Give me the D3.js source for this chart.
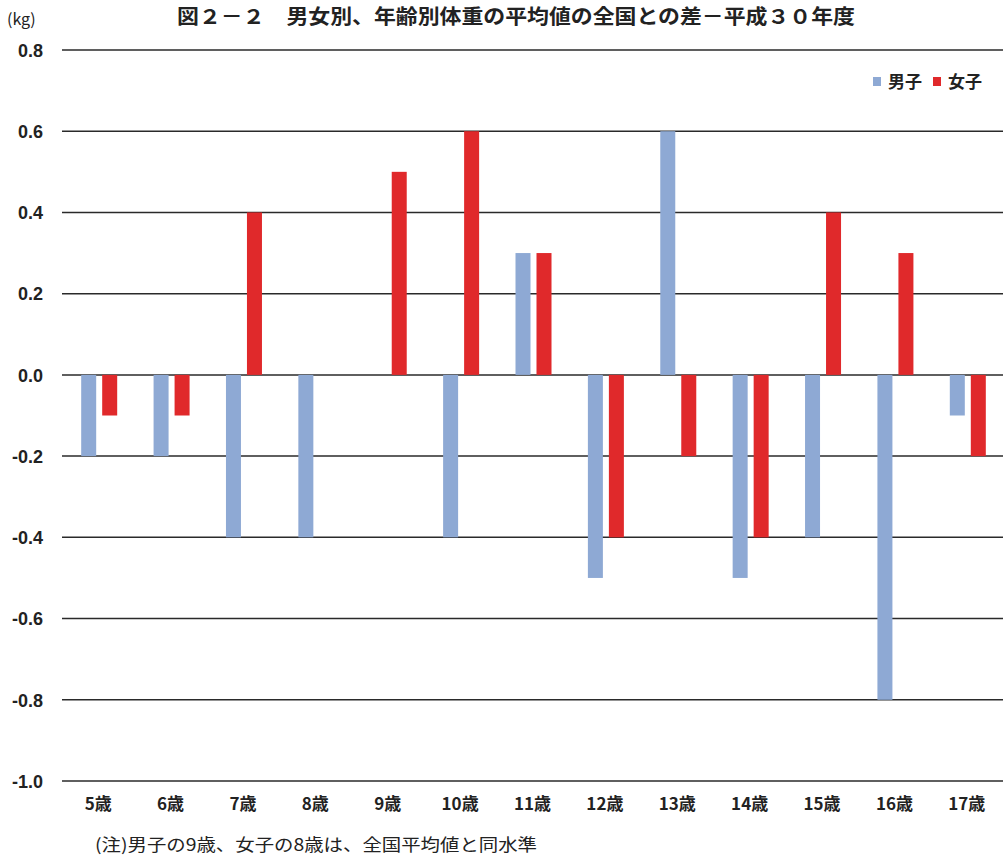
<!DOCTYPE html>
<html><head><meta charset="utf-8">
<script src="https://cdn.jsdelivr.net/npm/d3@7"></script>
<style>
html,body{margin:0;padding:0;background:#fff;}
svg{display:block;}
</style>
</head><body>
<script>
const categories = ["5歳","6歳","7歳","8歳","9歳","10歳","11歳","12歳","13歳","14歳","15歳","16歳","17歳"];
const seriesNames = ["男子","女子"];
const boys  = [-0.2,-0.2,-0.4,-0.4,null,-0.4,0.3,-0.5,0.6,-0.5,-0.4,-0.8,-0.1];
const girls = [-0.1,-0.1,0.4,null,0.5,0.6,0.3,-0.4,-0.2,-0.4,0.4,0.3,-0.2];
const yTicks = [0.8,0.6,0.4,0.2,0.0,-0.2,-0.4,-0.6,-0.8,-1.0];
const colors = ["#8ea9d4","#e0292b"];
const title = "図２－２　男女別、年齢別体重の平均値の全国との差－平成３０年度";
const note = "(注)男子の9歳、女子の8歳は、全国平均値と同水準";

const W = 1003, H = 861;
const svg = d3.select("body").append("svg").attr("width", W).attr("height", H);
const jp = "'Noto Sans CJK JP','Noto Sans',sans-serif";
const num = "'Liberation Sans',Arial,sans-serif";
const fmt = d => d.toFixed(1);

const x0 = d3.scaleBand().domain(categories).range([62, 1003]).padding(0);
const x1 = d3.scaleBand().domain(seriesNames).range([-17, 19]).paddingInner(6/21).paddingOuter(0);
const y = d3.scaleLinear().domain([-1.0, 0.8]).range([781, 50]);

// gridlines
svg.append("g").selectAll("line").data(yTicks).join("line")
  .attr("x1", 62).attr("x2", 1003)
  .attr("y1", d => y(d)).attr("y2", d => y(d))
  .attr("stroke", "#2a2a2a").attr("stroke-width", 1.5);

const yAxis = d3.axisLeft(y).tickValues(yTicks).tickSize(0).tickFormat(fmt);
const ag = svg.append("g").attr("transform", "translate(43,0)").call(yAxis);
ag.select(".domain").remove();
ag.selectAll("text").attr("x", 0).attr("dy", "0.35em")
  .attr("font-family", num).attr("font-weight", "bold").attr("font-size", 18).attr("fill", "#222");

// bars
const data = [];
categories.forEach((c, i) => {
  [boys, girls].forEach((arr, s) => {
    if (arr[i] !== null) data.push({c, s: seriesNames[s], v: arr[i], col: colors[s]});
  });
});
svg.append("g").selectAll("rect").data(data).join("rect")
  .attr("x", d => x0(d.c) + x0.bandwidth()/2 + x1(d.s))
  .attr("width", x1.bandwidth())
  .attr("y", d => y(Math.max(0, d.v)))
  .attr("height", d => Math.abs(y(d.v) - y(0)))
  .attr("fill", d => d.col);

// x labels
const xAxis = d3.axisBottom(x0).tickSize(0);
const xg = svg.append("g").attr("transform", "translate(0,795)").call(xAxis);
xg.select(".domain").remove();
xg.selectAll("text").attr("y", 0).attr("dy", "0.9em")
  .attr("font-family", jp).attr("font-weight", "bold").attr("font-size", 17).attr("fill", "#222");

// title
svg.append("text").attr("x", 516).attr("y", 24).attr("text-anchor", "middle")
  .attr("font-family", jp).attr("font-weight", "bold").attr("font-size", 20).attr("fill", "#222")
  .attr("textLength", 678).attr("lengthAdjust", "spacingAndGlyphs")
  .text(title);

// unit
svg.append("text").attr("x", 7).attr("y", 25)
  .attr("font-family", jp).attr("font-size", 16).attr("fill", "#222").text("(kg)");

// legend
const lg = svg.append("g");
const legX = [873, 933];
seriesNames.forEach((s, i) => {
  lg.append("rect").attr("x", legX[i]).attr("y", 77).attr("width", 8).attr("height", 9).attr("fill", colors[i]);
  lg.append("text").attr("x", legX[i] + 15).attr("y", 88)
    .attr("font-family", jp).attr("font-weight", "bold").attr("font-size", 17).attr("fill", "#222").text(s);
});

// note
svg.append("text").attr("x", 95).attr("y", 851)
  .attr("font-family", jp).attr("font-size", 17).attr("fill", "#222")
  .attr("textLength", 442).attr("lengthAdjust", "spacingAndGlyphs")
  .text(note);
</script>
</body></html>
